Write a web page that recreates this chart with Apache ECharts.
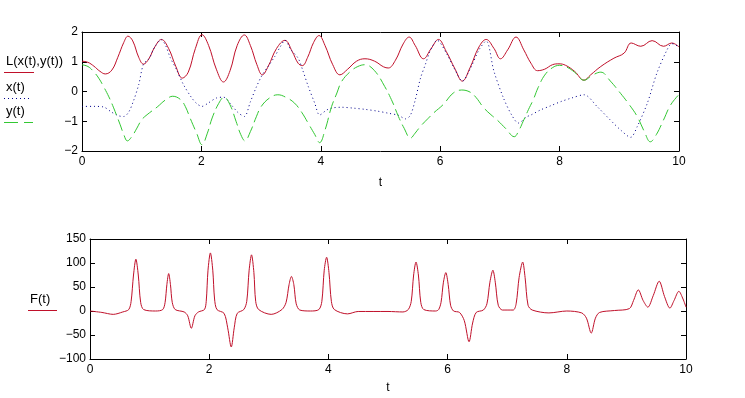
<!DOCTYPE html>
<html>
<head>
<meta charset="utf-8">
<script src="https://cdn.jsdelivr.net/npm/echarts@6/dist/echarts.min.js"></script>
<style>html,body{margin:0;background:#fff}#chart{width:745px;height:398px}</style>
</head>
<body>
<div id="chart"></div>
<script>
// tick values
var tTicks = [0, 2, 4, 6, 8, 10];
var topTicks = [-2, -1, 0, 1, 2];
var botTicks = [-100, -50, 0, 50, 100, 150];

// L(x(t),y(t)) - red
var tL = [0,0.1,0.2,0.3,0.39,0.5,0.6,0.7,0.77,0.85,0.95,1.03,1.12,1.22,1.33,1.45,1.57,1.68,1.78,1.9,2.01,2.12,2.25,2.37,2.48,2.6,2.72,2.82,2.93,3.02,3.12,3.26,3.4,3.52,3.62,3.69,3.78,3.88,3.97,4.07,4.2,4.32,4.45,4.6,4.74,4.9,5.05,5.13,5.25,5.38,5.48,5.58,5.72,5.85,5.97,6.1,6.25,6.37,6.5,6.65,6.77,6.9,7.01,7.13,7.27,7.4,7.52,7.63,7.75,7.88,7.99,8.1,8.25,8.41,8.52,8.69,8.91,9.08,9.2,9.36,9.55,9.74,9.88,10];
var valL = [1.02,0.98,0.85,0.68,0.59,0.72,1.15,1.65,1.86,1.7,1.15,0.92,1.1,1.5,1.75,1.45,0.85,0.45,0.65,1.45,1.91,1.55,0.75,0.32,0.7,1.55,1.9,1.55,0.9,0.56,0.85,1.45,1.72,1.35,0.95,0.87,1.15,1.65,1.88,1.55,0.9,0.56,0.75,1.02,1.1,1.02,0.83,0.79,1.05,1.6,1.83,1.55,1.1,1.45,1.75,1.35,0.75,0.35,0.8,1.5,1.75,1.45,1.1,1.4,1.83,1.4,0.95,0.7,0.75,0.9,0.93,0.88,0.68,0.38,0.56,0.84,1.12,1.29,1.63,1.52,1.71,1.52,1.63,1.5];

// x(t) - blue dotted
var tX = [0,0.2,0.36,0.5,0.62,0.7,0.78,0.86,0.95,1.03,1.12,1.22,1.33,1.4,1.48,1.58,1.7,1.84,1.93,2.01,2.12,2.25,2.37,2.5,2.62,2.72,2.82,2.92,3.02,3.12,3.23,3.32,3.4,3.5,3.62,3.7,3.79,3.9,3.98,4.1,4.2,4.35,4.55,4.74,4.95,5.13,5.3,5.42,5.5,5.58,5.67,5.75,5.83,5.95,6.1,6.25,6.37,6.5,6.65,6.77,6.9,7.06,7.2,7.31,7.45,7.52,7.68,7.85,8.02,8.2,8.41,8.63,8.85,9.02,9.19,9.3,9.47,9.63,9.8,9.88,10];
var valX = [-0.5,-0.5,-0.52,-0.7,-0.82,-0.84,-0.7,-0.33,0.23,0.92,1.1,1.5,1.74,1.55,1.13,0.75,0.23,-0.22,-0.42,-0.5,-0.38,-0.22,-0.19,-0.45,-0.72,-0.84,-0.35,0.15,0.56,0.85,1.18,1.5,1.72,1.4,1.12,0.7,0.17,-0.4,-0.79,-0.62,-0.55,-0.53,-0.56,-0.6,-0.66,-0.73,-0.8,-0.92,-0.8,-0.3,0.45,0.9,1.35,1.72,1.3,0.72,0.35,0.75,1.4,1.7,0.68,-0.22,-0.8,-1.06,-0.85,-0.79,-0.62,-0.48,-0.34,-0.22,-0.11,-0.51,-0.96,-1.29,-1.54,-1.18,-0.39,0.62,1.4,1.61,1.5];

// y(t) - green dashed
var tY = [0,0.1,0.19,0.28,0.36,0.45,0.53,0.64,0.7,0.76,0.84,0.92,1.0,1.09,1.26,1.4,1.52,1.65,1.73,1.81,1.92,2.01,2.1,2.18,2.29,2.38,2.48,2.58,2.66,2.73,2.82,2.92,3.0,3.14,3.28,3.42,3.56,3.68,3.79,3.9,3.98,4.07,4.18,4.27,4.35,4.5,4.62,4.74,4.9,5.07,5.2,5.3,5.4,5.5,5.58,5.67,5.8,5.89,6.05,6.22,6.36,6.5,6.6,6.73,6.85,6.95,7.1,7.24,7.32,7.39,7.48,7.56,7.64,7.75,7.88,8.0,8.12,8.25,8.41,8.55,8.69,8.85,9.02,9.17,9.3,9.42,9.52,9.62,9.74,9.86,10];
var valY = [0.9,0.84,0.68,0.45,0.17,-0.18,-0.55,-1.12,-1.45,-1.66,-1.5,-1.23,-0.95,-0.78,-0.52,-0.28,-0.16,-0.27,-0.5,-0.89,-1.4,-1.79,-1.4,-0.89,-0.4,-0.19,-0.45,-1.0,-1.45,-1.66,-1.35,-0.85,-0.51,-0.22,-0.11,-0.2,-0.39,-0.7,-1.07,-1.45,-1.72,-1.3,-0.51,-0.05,0.34,0.68,0.84,0.9,0.7,0.17,-0.35,-0.84,-1.25,-1.57,-1.4,-1.17,-0.9,-0.72,-0.44,-0.05,0.05,-0.02,-0.2,-0.55,-0.78,-0.95,-1.25,-1.52,-1.3,-1.0,-0.6,-0.27,0.13,0.55,0.8,0.88,0.82,0.65,0.38,0.55,0.65,0.35,-0.06,-0.45,-0.84,-1.35,-1.69,-1.45,-0.96,-0.45,-0.1];

// F(t) - red
var tF = [0,0.2,0.39,0.55,0.65,0.69,0.73,0.77,0.81,0.85,0.9,1.1,1.22,1.26,1.29,1.32,1.35,1.38,1.43,1.58,1.64,1.7,1.76,1.82,1.92,1.95,1.98,2.02,2.06,2.09,2.13,2.25,2.31,2.37,2.42,2.47,2.58,2.63,2.67,2.71,2.75,2.78,2.83,3.04,3.22,3.29,3.34,3.38,3.42,3.46,3.52,3.7,3.84,3.89,3.93,3.97,4.01,4.05,4.1,4.32,4.5,5.0,5.25,5.34,5.39,5.43,5.47,5.51,5.55,5.6,5.8,5.85,5.89,5.93,5.97,6.01,6.05,6.1,6.2,6.28,6.36,6.42,6.48,6.6,6.66,6.71,6.76,6.8,6.85,6.92,7.1,7.15,7.2,7.26,7.3,7.35,7.42,7.7,8.0,8.25,8.33,8.41,8.48,8.55,8.8,9.05,9.12,9.2,9.28,9.36,9.45,9.55,9.64,9.73,9.8,9.88,9.95,10];
var valF = [0,-3,-7,-2,3,20,75,108,75,18,3,0,3,18,55,78,55,18,3,-2,-10,-36,-10,-2,3,20,85,121,85,25,3,-5,-35,-75,-35,-5,3,20,85,117,80,20,3,-7,3,18,55,72,55,15,2,0,3,20,85,112,80,20,3,-6,-1,-1,-2,3,20,75,102,75,18,3,0,3,18,60,80,55,12,0,-3,-20,-64,-25,-3,2,15,60,85,60,12,2,2,15,70,102,70,12,2,-4,0,-4,-15,-46,-15,-3,1,5,22,44,22,8,32,62,30,6,22,41,25,8];

var RED = '#c0102a', BLUE = '#00008b', GREEN = '#33c833';
var FONT = 'Liberation Sans, Arial, sans-serif';

function pairs(ts, vs) {
  return ts.map(function (t, i) { return [t, vs[i]]; });
}
function fmt(v) { return v < 0 ? '\u2212' + Math.abs(v) : String(v); }

function xAx(grid, pos, labels) {
  return {
    type: 'value', gridIndex: grid, position: pos,
    min: tTicks[0], max: tTicks[tTicks.length - 1], interval: 2,
    name: labels ? 't' : '', nameLocation: 'middle', nameGap: grid === 0 ? 26 : 23,
    nameTextStyle: { color: '#000', fontFamily: FONT, fontSize: 12 },
    axisLine: { show: true, onZero: false, lineStyle: { color: '#000', width: 1 } },
    axisTick: { show: true, inside: true, length: 5, lineStyle: { color: '#000' } },
    axisLabel: { show: labels, color: '#000', fontFamily: FONT, fontSize: 12, margin: 5, formatter: fmt },
    splitLine: { show: false }
  };
}
function yAx(grid, pos, labels, ticks) {
  return {
    type: 'value', gridIndex: grid, position: pos,
    min: ticks[0], max: ticks[ticks.length - 1], interval: ticks[1] - ticks[0],
    axisLine: { show: true, onZero: false, lineStyle: { color: '#000', width: 1 } },
    axisTick: { show: true, inside: true, length: 5, lineStyle: { color: '#000' } },
    axisLabel: { show: labels, color: '#000', fontFamily: FONT, fontSize: 12, margin: 4, formatter: fmt },
    splitLine: { show: false }
  };
}
function ln(x1, y1, x2, y2, color, dash) {
  return { type: 'line', shape: { x1: x1, y1: y1, x2: x2, y2: y2 },
    style: { stroke: color, lineWidth: 1, lineDash: dash || null } };
}
function txt(x, y, s) {
  return { type: 'text', left: x, top: y, style: { text: s, fill: '#000', font: '13px ' + FONT } };
}

var chart = echarts.init(document.getElementById('chart'));
chart.setOption({
  animation: false,
  backgroundColor: '#fff',
  grid: [
    { left: 82, top: 32, width: 597, height: 119 },
    { left: 90, top: 239, width: 596, height: 120 }
  ],
  xAxis: [xAx(0, 'bottom', true), xAx(0, 'top', false), xAx(1, 'bottom', true), xAx(1, 'top', false)],
  yAxis: [yAx(0, 'left', true, topTicks), yAx(0, 'right', false, topTicks),
          yAx(1, 'left', true, botTicks), yAx(1, 'right', false, botTicks)],
  graphic: [
    txt(6, 55, 'L(x(t),y(t))'), ln(4, 72.5, 34, 72.5, RED),
    txt(6, 81, 'x(t)'), ln(4, 98.5, 30, 98.5, BLUE, [1, 3]),
    txt(6, 105, 'y(t)'), ln(4, 122.5, 33, 122.5, GREEN, [14, 6]),
    txt(30, 293, 'F(t)'), ln(28, 310.5, 57, 310.5, RED)
  ],
  series: [
    { type: 'line', xAxisIndex: 0, yAxisIndex: 0, data: pairs(tL, valL), showSymbol: false, smooth: 0.4,
      lineStyle: { color: RED, width: 1 } },
    { type: 'line', xAxisIndex: 0, yAxisIndex: 0, data: pairs(tX, valX), showSymbol: false, smooth: 0.3,
      lineStyle: { color: BLUE, width: 1, type: [1, 3] } },
    { type: 'line', xAxisIndex: 0, yAxisIndex: 0, data: pairs(tY, valY), showSymbol: false, smooth: 0.4,
      lineStyle: { color: GREEN, width: 1, type: [12, 5] } },
    { type: 'line', xAxisIndex: 2, yAxisIndex: 2, data: pairs(tF, valF), showSymbol: false, smooth: 0.3,
      lineStyle: { color: RED, width: 1 } }
  ]
});
</script>
</body>
</html>
